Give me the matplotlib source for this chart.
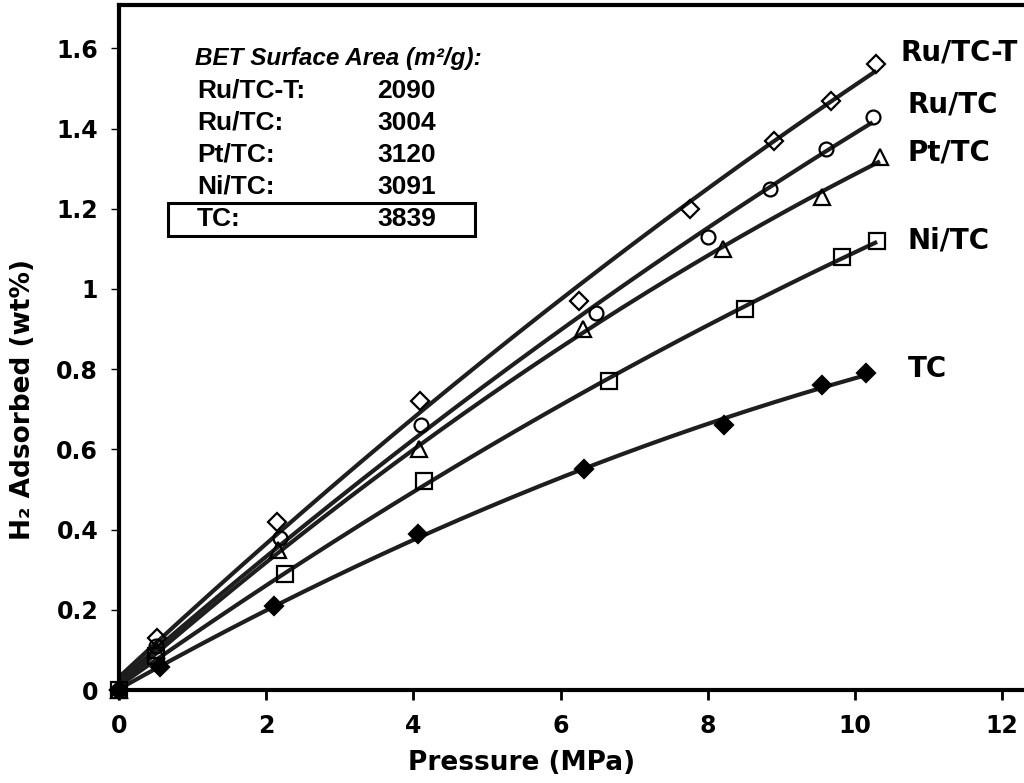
import numpy as np
import matplotlib
matplotlib.use('Agg')
import matplotlib.pyplot as plt
from matplotlib.patches import Rectangle
from matplotlib.ticker import FormatStrFormatter

# Hydrogen uptake data (Pressure in MPa, H2 adsorbed in wt%)
p_rutct = [0, 0.52, 2.14, 4.09, 6.25, 7.76, 8.90, 9.67, 10.29]
h_rutct = [0, 0.13, 0.42, 0.72, 0.97, 1.20, 1.37, 1.47, 1.56]

p_rutc = [0, 0.50, 2.19, 4.10, 6.48, 8.00, 8.84, 9.60, 10.24]
h_rutc = [0, 0.11, 0.38, 0.66, 0.94, 1.13, 1.25, 1.35, 1.43]

p_pttc = [0, 0.50, 2.16, 4.08, 6.30, 8.20, 9.55, 10.34]
h_pttc = [0, 0.10, 0.35, 0.60, 0.90, 1.10, 1.23, 1.33]

p_nitc = [0, 0.50, 2.26, 4.14, 6.66, 8.50, 9.82, 10.30]
h_nitc = [0, 0.085, 0.29, 0.52, 0.77, 0.95, 1.08, 1.12]

p_tc = [0, 0.56, 2.10, 4.06, 6.32, 8.22, 9.55, 10.15]
h_tc = [0, 0.057, 0.21, 0.39, 0.55, 0.66, 0.76, 0.79]

names = ['Ru/TC-T', 'Ru/TC', 'Pt/TC', 'Ni/TC', 'TC']
bet_area = [2090, 3004, 3120, 3091, 3839]

series = [
    (p_rutct, h_rutct, 'D', 'none', 9),
    (p_rutc, h_rutc, 'o', 'none', 10),
    (p_pttc, h_pttc, '^', 'none', 11),
    (p_nitc, h_nitc, 's', 'none', 11),
    (p_tc, h_tc, 'D', 'black', 9),
]
label_y = [1.59, 1.46, 1.34, 1.12, 0.80]
label_x = [10.62, 10.72, 10.72, 10.72, 10.72]

fig = plt.figure(figsize=(10.24, 7.83), dpi=100)
ax = fig.add_axes([119 / 1024, 93 / 783, 905 / 1024, 685 / 783])

# Fitted curves first, then the measured points on top
for p, h, m, fc, ms in series:
    coef = np.polyfit(p, h, 2)
    xs = np.linspace(0, max(p), 200)
    ax.plot(xs, np.polyval(coef, xs), color='#1e1e1e', lw=3, zorder=2,
            solid_capstyle='butt')
for p, h, m, fc, ms in series:
    ax.plot(p, h, linestyle='none', marker=m, ms=ms, mfc=fc, mec='black',
            mew=1.6, zorder=3, clip_on=False)

for name, lx, ly in zip(names, label_x, label_y):
    ax.text(lx, ly, name, fontsize=20, fontweight='bold', va='center',
            ha='left', clip_on=False)

ax.set_xlim(0, 905 / 73.6)
ax.set_ylim(0, 685 / 401)
ax.set_xticks([0, 2, 4, 6, 8, 10, 12])
ax.set_yticks([0, 0.2, 0.4, 0.6, 0.8, 1.0, 1.2, 1.4, 1.6])
ax.yaxis.set_major_formatter(FormatStrFormatter('%g'))

for s in ['left', 'bottom', 'top']:
    ax.spines[s].set_linewidth(3)
ax.spines['right'].set_visible(False)
ax.tick_params(axis='y', direction='out', length=6, width=1, pad=9,
               labelsize=17)
ax.tick_params(axis='x', direction='out', length=7, width=2, pad=10,
               labelsize=17)
for lab in ax.get_xticklabels() + ax.get_yticklabels():
    lab.set_fontweight('bold')

ax.set_xlabel('Pressure (MPa)', fontsize=19, fontweight='bold')
ax.xaxis.set_label_coords((522 - 119) / 905, -(750 - 690) / 685)
ax.set_ylabel('H\u2082 Adsorbed (wt%)', fontsize=19, fontweight='bold')
ax.yaxis.set_label_coords(-(119 - 36) / 905, (690 - 400) / 685)

# BET surface area table
fig.text(195 / 1024, 1 - 58 / 783, 'BET Surface Area (m\u00b2/g):',
         family='Liberation Sans', fontsize=17.5, fontweight='bold',
         style='italic', va='center')
row_y = [91, 123, 155, 187, 219]
for name, val, ry in zip(names, bet_area, row_y):
    fig.text(197 / 1024, 1 - ry / 783, name + ':', family='Liberation Sans',
             fontsize=19, fontweight='bold', va='center')
    fig.text(377 / 1024, 1 - ry / 783, str(val), family='Liberation Sans',
             fontsize=19, fontweight='bold', va='center')
fig.add_artist(Rectangle((168 / 1024, 1 - 236 / 783), 307 / 1024, 33 / 783,
                         transform=fig.transFigure, fill=False,
                         edgecolor='black', lw=2.2))

fig.savefig('out.png', dpi=100)
